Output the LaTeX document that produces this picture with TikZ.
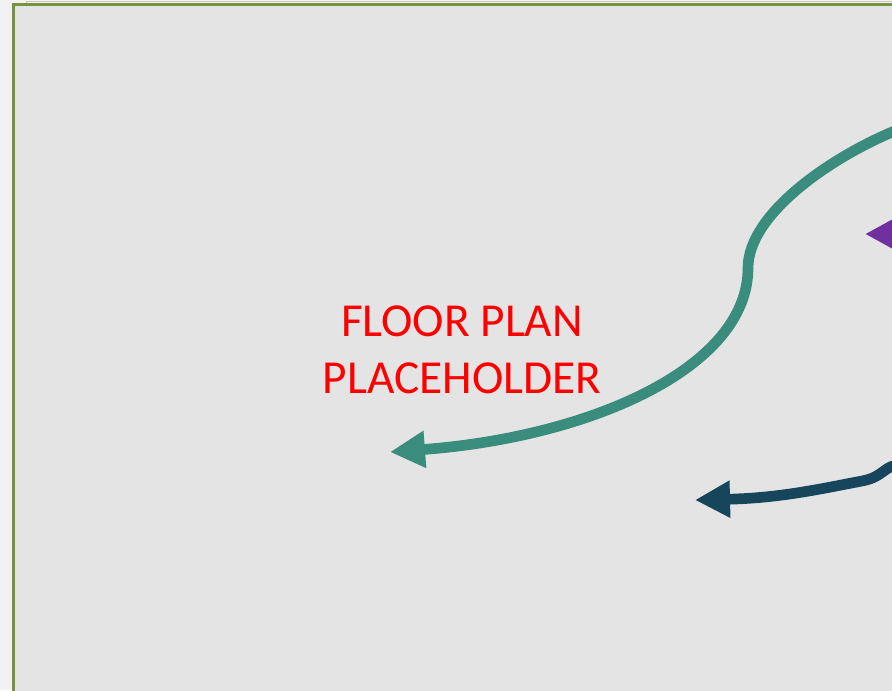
\documentclass[tikz,border=0pt]{standalone}
\usepackage{fontspec}
\setmainfont{Carlito}
\usetikzlibrary{arrows.meta}
\definecolor{pageback}{RGB}{242,242,242}
\definecolor{planback}{RGB}{228,228,228}
\definecolor{planedge}{RGB}{119,147,60}
\definecolor{routeteal}{RGB}{58,140,124}
\definecolor{routenavy}{RGB}{23,70,92}
\definecolor{routeviolet}{RGB}{112,48,160}
\tikzset{
  >={Triangle[length=26.25pt,width=26.25pt]},
  route/.style={->, line width=8pt},
  placeholder/.style={text=red, align=center, font=\fontsize{35.5}{43}\selectfont},
}

\begin{document}
\begin{tikzpicture}[x=0.75pt,y=-0.75pt]
  \useasboundingbox (0,0) rectangle (892,690);
  \clip (0,0) rectangle (892,690);
  \fill[pageback] (0,0) rectangle (892,690);
  \draw[gray!45, line width=0.75pt] (26.5,1.5) rectangle (920,720);
  \draw[planedge, fill=planback, line width=2.25pt] (13.5,4.5) rectangle (920,720);

  \node[placeholder] (label) at (462,350) {FLOOR PLAN\\PLACEHOLDER};

  % routes
  \coordinate (tealin) at (900,128.8);
  \coordinate (tealbend) at (748,268);
  \coordinate (tealout) at (390,452);
  \draw[route, routeteal] (tealin) .. controls (834,155) and (748,213) .. (tealbend)
    .. controls (748,368) and (590,437) .. (tealout);

  \coordinate (navyin) at (900,465);
  \coordinate (navybend) at (862,481);
  \coordinate (navyout) at (695,500);
  \draw[route, routenavy] (navyin) .. controls (884,465) and (884,477) .. (navybend)
    .. controls (820,489) and (780,498) .. (navyout);

  \coordinate (violetin) at (960,234);
  \coordinate (violetout) at (865,234);
  \draw[route, routeviolet] (violetin) -- (violetout);
\end{tikzpicture}
\end{document}
